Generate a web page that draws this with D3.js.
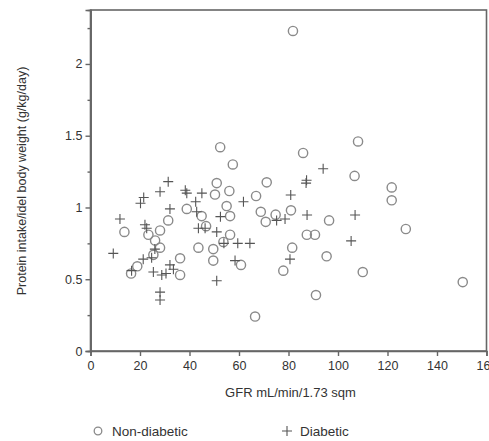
<!DOCTYPE html>
<html><head><meta charset="utf-8">
<script src="https://cdn.jsdelivr.net/npm/d3@7"></script>
<style>body{margin:0;background:#fff}svg{display:block}text{font-family:"Liberation Sans",Arial,sans-serif;fill:#333}</style>
</head><body><svg id="c" width="489" height="441"></svg>
<script>
const nonDiabeticGFR = [81.8,52.4,57.5,85.9,108.1,106.7,121.7,121.7,127.4,96.4,95.4,110,150.4,87.4,90.7,91.1,71.2,66.9,68.8,70.8,74.8,81,81.5,77.9,66.5,51,50.3,56.1,38.9,55,56.4,44.9,31.4,56.4,53.7,43.6,49.6,49.6,36.2,60.8,36.2,13.7,28.1,23.4,26.1,28.1,25.4,16.4,18.9,46.7];
const nonDiabeticProtein = [2.23,1.42,1.30,1.38,1.46,1.22,1.14,1.05,0.85,0.91,0.66,0.55,0.48,0.81,0.81,0.39,1.175,1.08,0.97,0.90,0.95,0.98,0.72,0.56,0.24,1.17,1.09,1.115,0.99,1.01,0.94,0.94,0.91,0.81,0.76,0.72,0.71,0.63,0.646,0.60,0.53,0.83,0.84,0.81,0.77,0.72,0.67,0.54,0.59,0.87];
const diabeticGFR = [31.4,28.1,21.5,20.2,11.9,32.1,22,22.7,9.2,26,21.3,24.7,16.6,32.1,25.4,28.1,28.1,30.5,33.5,51,58.4,53.9,59.5,64.4,38.3,38.9,45,42.5,42.9,61.8,52.5,43.6,46.3,51,94,87.3,87.1,80.9,87.5,75.2,78.6,80.6,106.9,105.3,28.8];
const diabeticProtein = [1.18,1.11,1.07,1.03,0.92,0.99,0.88,0.855,0.68,0.71,0.64,0.65,0.56,0.60,0.55,0.41,0.355,0.54,0.57,0.49,0.63,0.75,0.75,0.75,1.12,1.10,1.10,1.04,0.97,1.04,0.936,0.855,0.855,0.83,1.27,1.19,1.17,1.087,0.948,0.91,0.92,0.64,0.948,0.767,0.53];
const xTicks = [0,20,40,60,80,100,120,140,160];
const yTicks = [0,0.5,1,1.5,2];
const yMinorTicks = [0.25,0.75,1.25,1.75,2.25];
const xTitle = "GFR mL/min/1.73 sqm";
const yTitle = "Protein intake/idel body weight (g/kg/day)";
const seriesNames = ["Non-diabetic","Diabetic"];

const svg = d3.select("#c");
const L=90.5, R=486.5, T=10, B=351;
const x = d3.scaleLinear().domain([0,160]).range([L,R]);
const y = d3.scaleLinear().domain([0,2.376]).range([B,T]);
const axisColor="#666";

// frame
svg.append("rect").attr("x",L).attr("y",T).attr("width",R-L).attr("height",B-T)
  .attr("fill","none").attr("stroke",axisColor).attr("stroke-width",1.6);

const gx = svg.append("g").attr("transform",`translate(0,${B})`)
  .call(d3.axisBottom(x).tickValues(xTicks).tickSize(5).tickPadding(5).tickFormat(d3.format("d")));
const gy = svg.append("g").attr("transform",`translate(${L},0)`)
  .call(d3.axisLeft(y).tickValues(yTicks).tickSize(5).tickPadding(3).tickFormat(d=>String(d)));
const gym = svg.append("g").attr("transform",`translate(${L},0)`)
  .call(d3.axisLeft(y).tickValues(yMinorTicks).tickSize(3).tickFormat(""));
[gx,gy,gym].forEach(g=>{
  g.select(".domain").attr("stroke",axisColor).attr("stroke-width",1.6);
  g.selectAll(".tick line").attr("stroke",axisColor).attr("stroke-width",1.4);
  g.selectAll(".tick text").attr("fill","#333").style("font-size","12.5px").style("font-family","'Liberation Sans',Arial,sans-serif");
});

// data
const nd = nonDiabeticGFR.map((g,i)=>({g, p:nonDiabeticProtein[i]}));
const dd = diabeticGFR.map((g,i)=>({g, p:diabeticProtein[i]}));
svg.append("g").selectAll("circle").data(nd).join("circle")
  .attr("cx",d=>x(d.g)).attr("cy",d=>y(d.p)).attr("r",4.6)
  .attr("fill","none").attr("stroke","#8a8a8a").attr("stroke-width",1.4);
const ps=5;
svg.append("g").selectAll("path").data(dd).join("path")
  .attr("d",d=>{const cx=x(d.g), cy=y(d.p);return `M${cx-ps},${cy}H${cx+ps}M${cx},${cy-ps}V${cy+ps}`;})
  .attr("fill","none").attr("stroke","#555").attr("stroke-width",1.1);

// titles
svg.append("text").attr("x",(L+R)/2+2).attr("y",397).attr("text-anchor","middle").style("font-size","13px").text(xTitle);
svg.append("text").attr("transform",`translate(26,181) rotate(-90)`).attr("text-anchor","middle").style("font-size","12.5px").text(yTitle);

// legend
svg.append("circle").attr("cx",98).attr("cy",431).attr("r",3.8).attr("fill","none").attr("stroke","#8a8a8a").attr("stroke-width",1.3);
svg.append("text").attr("x",112).attr("y",436).style("font-size","13.5px").text(seriesNames[0]);
svg.append("path").attr("d","M282,431H292M287,426V436").attr("stroke","#555").attr("stroke-width",1.1);
svg.append("text").attr("x",300).attr("y",436).style("font-size","13.5px").text(seriesNames[1]);
</script></body></html>
